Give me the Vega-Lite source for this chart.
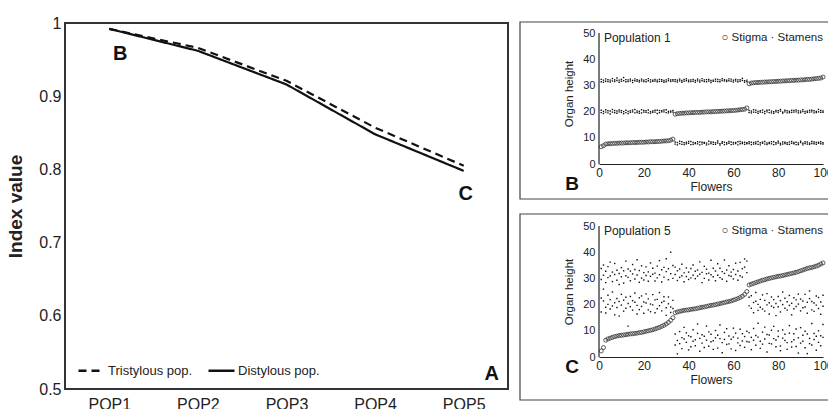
{
"$schema": "https://vega.github.io/schema/vega-lite/v6.json",
"padding": {"left": 5, "top": 14, "right": 0, "bottom": 0},
"background": "white",
"config": {"font": "Liberation Sans", "view": {"stroke": null}, "axis": {"grid": false, "ticks": false, "tickSize": 0, "labelColor": "#222", "titleColor": "#222", "labelFont": "Liberation Sans", "titleFont": "Liberation Sans"}},
"datasets": {
"idx": [{"pop":"POP1","v":0.992,"s":"Tristylous pop."},{"pop":"POP2","v":0.966,"s":"Tristylous pop."},{"pop":"POP3","v":0.921,"s":"Tristylous pop."},{"pop":"POP4","v":0.857,"s":"Tristylous pop."},{"pop":"POP5","v":0.805,"s":"Tristylous pop."},{"pop":"POP1","v":0.992,"s":"Distylous pop."},{"pop":"POP2","v":0.962,"s":"Distylous pop."},{"pop":"POP3","v":0.916,"s":"Distylous pop."},{"pop":"POP4","v":0.848,"s":"Distylous pop."},{"pop":"POP5","v":0.798,"s":"Distylous pop."}],
"p1stig": [{"f":1,"h":6.6},{"f":2,"h":7.0},{"f":3,"h":7.6},{"f":4,"h":7.7},{"f":5,"h":7.8},{"f":6,"h":7.8},{"f":7,"h":7.9},{"f":8,"h":7.9},{"f":9,"h":8.0},{"f":10,"h":8.0},{"f":11,"h":8.0},{"f":12,"h":8.1},{"f":13,"h":8.1},{"f":14,"h":8.1},{"f":15,"h":8.2},{"f":16,"h":8.2},{"f":17,"h":8.2},{"f":18,"h":8.3},{"f":19,"h":8.3},{"f":20,"h":8.3},{"f":21,"h":8.4},{"f":22,"h":8.4},{"f":23,"h":8.5},{"f":24,"h":8.5},{"f":25,"h":8.5},{"f":26,"h":8.6},{"f":27,"h":8.6},{"f":28,"h":8.7},{"f":29,"h":8.8},{"f":30,"h":8.8},{"f":31,"h":8.9},{"f":32,"h":9.1},{"f":33,"h":9.5},
{"f":34,"h":19.0},{"f":35,"h":19.2},{"f":36,"h":19.3},{"f":37,"h":19.4},{"f":38,"h":19.4},{"f":39,"h":19.5},{"f":40,"h":19.5},{"f":41,"h":19.6},{"f":42,"h":19.6},{"f":43,"h":19.7},{"f":44,"h":19.7},{"f":45,"h":19.7},{"f":46,"h":19.8},{"f":47,"h":19.8},{"f":48,"h":19.9},{"f":49,"h":19.9},{"f":50,"h":19.9},{"f":51,"h":20.0},{"f":52,"h":20.0},{"f":53,"h":20.1},{"f":54,"h":20.1},{"f":55,"h":20.2},{"f":56,"h":20.2},{"f":57,"h":20.3},{"f":58,"h":20.3},{"f":59,"h":20.4},{"f":60,"h":20.4},{"f":61,"h":20.5},{"f":62,"h":20.6},{"f":63,"h":20.7},{"f":64,"h":20.8},{"f":65,"h":20.9},{"f":66,"h":21.4},
{"f":67,"h":30.6},{"f":68,"h":30.9},{"f":69,"h":31.0},{"f":70,"h":31.1},{"f":71,"h":31.1},{"f":72,"h":31.2},{"f":73,"h":31.2},{"f":74,"h":31.3},{"f":75,"h":31.3},{"f":76,"h":31.4},{"f":77,"h":31.4},{"f":78,"h":31.5},{"f":79,"h":31.5},{"f":80,"h":31.6},{"f":81,"h":31.6},{"f":82,"h":31.7},{"f":83,"h":31.7},{"f":84,"h":31.8},{"f":85,"h":31.8},{"f":86,"h":31.9},{"f":87,"h":31.9},{"f":88,"h":32.0},{"f":89,"h":32.0},{"f":90,"h":32.1},{"f":91,"h":32.1},{"f":92,"h":32.2},{"f":93,"h":32.3},{"f":94,"h":32.3},{"f":95,"h":32.4},{"f":96,"h":32.5},{"f":97,"h":32.6},{"f":98,"h":32.7},{"f":99,"h":32.8},{"f":100,"h":33.2}],
"p1stam": [
{"f":1,"h":19.6},{"f":1,"h":20.5},{"f":1,"h":31.4},{"f":1,"h":32.3},
{"f":2,"h":20.1},{"f":2,"h":19.3},{"f":2,"h":32.0},{"f":2,"h":31.2},
{"f":3,"h":20.7},{"f":3,"h":19.8},{"f":3,"h":31.6},{"f":3,"h":32.5},
{"f":4,"h":19.5},{"f":4,"h":20.3},{"f":4,"h":32.2},{"f":4,"h":31.5},
{"f":5,"h":20.2},{"f":5,"h":19.1},{"f":5,"h":31.3},{"f":5,"h":32.0},
{"f":6,"h":19.8},{"f":6,"h":20.8},{"f":6,"h":32.6},{"f":6,"h":31.7},
{"f":7,"h":20.4},{"f":7,"h":19.6},{"f":7,"h":31.5},{"f":7,"h":32.1},
{"f":8,"h":19.4},{"f":8,"h":20.2},{"f":8,"h":31.9},{"f":8,"h":32.8},
{"f":9,"h":20.6},{"f":9,"h":19.9},{"f":9,"h":31.2},{"f":9,"h":32.0},
{"f":10,"h":19.7},{"f":10,"h":20.4},{"f":10,"h":32.3},{"f":10,"h":31.6},
{"f":11,"h":20.0},{"f":11,"h":19.2},{"f":11,"h":31.8},{"f":11,"h":33.0},
{"f":12,"h":20.5},{"f":12,"h":19.6},{"f":12,"h":31.4},{"f":12,"h":32.2},
{"f":13,"h":19.3},{"f":13,"h":20.1},{"f":13,"h":32.1},{"f":13,"h":31.5},
{"f":14,"h":20.3},{"f":14,"h":19.7},{"f":14,"h":31.7},{"f":14,"h":32.4},
{"f":15,"h":19.9},{"f":15,"h":20.6},{"f":15,"h":31.1},{"f":15,"h":31.9},
{"f":16,"h":20.8},{"f":16,"h":19.5},{"f":16,"h":32.5},{"f":16,"h":31.8},
{"f":17,"h":19.6},{"f":17,"h":20.2},{"f":17,"h":31.6},{"f":17,"h":32.2},
{"f":18,"h":20.1},{"f":18,"h":19.4},{"f":18,"h":31.9},{"f":18,"h":31.3},
{"f":19,"h":19.5},{"f":19,"h":20.7},{"f":19,"h":32.4},{"f":19,"h":31.7},
{"f":20,"h":20.4},{"f":20,"h":19.8},{"f":20,"h":31.5},{"f":20,"h":32.0},
{"f":21,"h":19.7},{"f":21,"h":20.3},{"f":21,"h":32.2},{"f":21,"h":31.4},
{"f":22,"h":20.6},{"f":22,"h":19.5},{"f":22,"h":31.8},{"f":22,"h":32.6},
{"f":23,"h":19.4},{"f":23,"h":20.0},{"f":23,"h":31.3},{"f":23,"h":32.1},
{"f":24,"h":20.2},{"f":24,"h":19.7},{"f":24,"h":32.0},{"f":24,"h":31.6},
{"f":25,"h":19.8},{"f":25,"h":20.5},{"f":25,"h":31.7},{"f":25,"h":32.3},
{"f":26,"h":20.5},{"f":26,"h":19.3},{"f":26,"h":31.4},{"f":26,"h":32.0},
{"f":27,"h":19.6},{"f":27,"h":20.4},{"f":27,"h":32.3},{"f":27,"h":31.5},
{"f":28,"h":20.3},{"f":28,"h":19.9},{"f":28,"h":31.6},{"f":28,"h":32.2},
{"f":29,"h":19.9},{"f":29,"h":20.6},{"f":29,"h":31.2},{"f":29,"h":31.9},
{"f":30,"h":20.7},{"f":30,"h":19.6},{"f":30,"h":32.1},{"f":30,"h":31.4},
{"f":31,"h":19.5},{"f":31,"h":20.1},{"f":31,"h":31.8},{"f":31,"h":32.5},
{"f":32,"h":20.2},{"f":32,"h":19.8},{"f":32,"h":31.5},{"f":32,"h":32.1},
{"f":33,"h":19.8},{"f":33,"h":20.4},{"f":33,"h":32.2},{"f":33,"h":31.7},
{"f":34,"h":7.6},{"f":34,"h":8.4},{"f":34,"h":31.5},{"f":34,"h":32.2},
{"f":35,"h":8.2},{"f":35,"h":7.3},{"f":35,"h":32.0},{"f":35,"h":31.3},
{"f":36,"h":7.8},{"f":36,"h":8.7},{"f":36,"h":31.7},{"f":36,"h":32.4},
{"f":37,"h":8.5},{"f":37,"h":7.5},{"f":37,"h":31.2},{"f":37,"h":31.9},
{"f":38,"h":7.4},{"f":38,"h":8.1},{"f":38,"h":32.3},{"f":38,"h":31.6},
{"f":39,"h":8.3},{"f":39,"h":7.7},{"f":39,"h":31.8},{"f":39,"h":32.5},
{"f":40,"h":7.9},{"f":40,"h":8.6},{"f":40,"h":31.4},{"f":40,"h":32.0},
{"f":41,"h":8.6},{"f":41,"h":7.4},{"f":41,"h":32.1},{"f":41,"h":31.5},
{"f":42,"h":7.5},{"f":42,"h":8.2},{"f":42,"h":31.6},{"f":42,"h":32.3},
{"f":43,"h":8.1},{"f":43,"h":7.8},{"f":43,"h":31.9},{"f":43,"h":31.2},
{"f":44,"h":7.7},{"f":44,"h":8.5},{"f":44,"h":32.4},{"f":44,"h":31.7},
{"f":45,"h":8.4},{"f":45,"h":7.3},{"f":45,"h":31.3},{"f":45,"h":32.0},
{"f":46,"h":7.6},{"f":46,"h":8.3},{"f":46,"h":31.8},{"f":46,"h":32.6},
{"f":47,"h":8.2},{"f":47,"h":7.9},{"f":47,"h":31.5},{"f":47,"h":32.1},
{"f":48,"h":7.3},{"f":48,"h":8.0},{"f":48,"h":32.2},{"f":48,"h":31.4},
{"f":49,"h":8.7},{"f":49,"h":7.6},{"f":49,"h":31.7},{"f":49,"h":32.3},
{"f":50,"h":7.8},{"f":50,"h":8.4},{"f":50,"h":31.1},{"f":50,"h":31.9},
{"f":51,"h":8.3},{"f":51,"h":7.5},{"f":51,"h":32.0},{"f":51,"h":31.6},
{"f":52,"h":7.5},{"f":52,"h":8.1},{"f":52,"h":31.6},{"f":52,"h":32.4},
{"f":53,"h":8.0},{"f":53,"h":8.8},{"f":53,"h":32.3},{"f":53,"h":31.5},
{"f":54,"h":7.7},{"f":54,"h":7.2},{"f":54,"h":31.4},{"f":54,"h":32.1},
{"f":55,"h":8.5},{"f":55,"h":7.9},{"f":55,"h":31.9},{"f":55,"h":32.6},
{"f":56,"h":7.4},{"f":56,"h":8.3},{"f":56,"h":32.2},{"f":56,"h":31.7},
{"f":57,"h":8.1},{"f":57,"h":7.6},{"f":57,"h":31.5},{"f":57,"h":32.0},
{"f":58,"h":7.9},{"f":58,"h":8.6},{"f":58,"h":31.8},{"f":58,"h":32.5},
{"f":59,"h":8.4},{"f":59,"h":7.4},{"f":59,"h":32.4},{"f":59,"h":31.6},
{"f":60,"h":7.6},{"f":60,"h":8.2},{"f":60,"h":31.3},{"f":60,"h":32.0},
{"f":61,"h":8.2},{"f":61,"h":7.8},{"f":61,"h":31.7},{"f":61,"h":32.3},
{"f":62,"h":7.3},{"f":62,"h":8.5},{"f":62,"h":32.1},{"f":62,"h":31.4},
{"f":63,"h":8.6},{"f":63,"h":7.7},{"f":63,"h":31.6},{"f":63,"h":32.2},
{"f":64,"h":7.8},{"f":64,"h":8.3},{"f":64,"h":31.9},{"f":64,"h":32.7},
{"f":65,"h":8.3},{"f":65,"h":7.5},{"f":65,"h":31.2},{"f":65,"h":31.8},
{"f":66,"h":7.7},{"f":66,"h":8.1},{"f":66,"h":32.0},{"f":66,"h":31.5},
{"f":67,"h":7.8},{"f":67,"h":8.5},{"f":67,"h":19.6},{"f":67,"h":20.4},
{"f":68,"h":8.3},{"f":68,"h":7.4},{"f":68,"h":20.2},{"f":68,"h":19.5},
{"f":69,"h":7.6},{"f":69,"h":8.2},{"f":69,"h":19.8},{"f":69,"h":20.7},
{"f":70,"h":8.4},{"f":70,"h":7.7},{"f":70,"h":20.5},{"f":70,"h":19.7},
{"f":71,"h":7.5},{"f":71,"h":8.6},{"f":71,"h":19.4},{"f":71,"h":20.1},
{"f":72,"h":8.1},{"f":72,"h":7.3},{"f":72,"h":20.3},{"f":72,"h":19.8},
{"f":73,"h":7.9},{"f":73,"h":8.4},{"f":73,"h":19.7},{"f":73,"h":20.6},
{"f":74,"h":8.6},{"f":74,"h":7.6},{"f":74,"h":20.1},{"f":74,"h":19.3},
{"f":75,"h":7.4},{"f":75,"h":8.0},{"f":75,"h":19.9},{"f":75,"h":20.5},
{"f":76,"h":8.2},{"f":76,"h":7.8},{"f":76,"h":20.6},{"f":76,"h":19.6},
{"f":77,"h":7.7},{"f":77,"h":8.5},{"f":77,"h":19.5},{"f":77,"h":20.2},
{"f":78,"h":8.5},{"f":78,"h":7.4},{"f":78,"h":20.0},{"f":78,"h":19.4},
{"f":79,"h":7.6},{"f":79,"h":8.1},{"f":79,"h":20.4},{"f":79,"h":19.9},
{"f":80,"h":8.0},{"f":80,"h":8.7},{"f":80,"h":19.6},{"f":80,"h":20.3},
{"f":81,"h":7.3},{"f":81,"h":7.9},{"f":81,"h":20.2},{"f":81,"h":20.8},
{"f":82,"h":8.4},{"f":82,"h":7.6},{"f":82,"h":19.8},{"f":82,"h":19.4},
{"f":83,"h":7.8},{"f":83,"h":8.3},{"f":83,"h":20.5},{"f":83,"h":19.9},
{"f":84,"h":8.1},{"f":84,"h":7.5},{"f":84,"h":19.5},{"f":84,"h":20.3},
{"f":85,"h":7.5},{"f":85,"h":8.4},{"f":85,"h":20.1},{"f":85,"h":19.6},
{"f":86,"h":8.6},{"f":86,"h":7.9},{"f":86,"h":19.7},{"f":86,"h":20.5},
{"f":87,"h":7.7},{"f":87,"h":8.2},{"f":87,"h":20.4},{"f":87,"h":19.8},
{"f":88,"h":8.3},{"f":88,"h":7.4},{"f":88,"h":19.9},{"f":88,"h":20.6},
{"f":89,"h":7.4},{"f":89,"h":8.0},{"f":89,"h":20.3},{"f":89,"h":19.5},
{"f":90,"h":8.2},{"f":90,"h":8.7},{"f":90,"h":19.6},{"f":90,"h":20.2},
{"f":91,"h":7.9},{"f":91,"h":7.3},{"f":91,"h":20.7},{"f":91,"h":20.0},
{"f":92,"h":8.5},{"f":92,"h":7.8},{"f":92,"h":19.4},{"f":92,"h":20.1},
{"f":93,"h":7.6},{"f":93,"h":8.4},{"f":93,"h":20.2},{"f":93,"h":19.7},
{"f":94,"h":8.0},{"f":94,"h":7.5},{"f":94,"h":19.8},{"f":94,"h":20.5},
{"f":95,"h":7.8},{"f":95,"h":8.6},{"f":95,"h":20.5},{"f":95,"h":19.9},
{"f":96,"h":8.4},{"f":96,"h":7.7},{"f":96,"h":19.5},{"f":96,"h":20.3},
{"f":97,"h":7.5},{"f":97,"h":8.2},{"f":97,"h":20.1},{"f":97,"h":19.6},
{"f":98,"h":8.3},{"f":98,"h":7.9},{"f":98,"h":19.9},{"f":98,"h":20.8},
{"f":99,"h":7.7},{"f":99,"h":8.5},{"f":99,"h":20.4},{"f":99,"h":19.7},
{"f":100,"h":8.1},{"f":100,"h":7.6},{"f":100,"h":19.7},{"f":100,"h":20.2}],
"p5stig": [{"f":1,"h":2.3},{"f":2,"h":3.6},{"f":3,"h":6.4},{"f":4,"h":6.9},{"f":5,"h":7.2},{"f":6,"h":7.5},{"f":7,"h":7.8},{"f":8,"h":8.0},{"f":9,"h":8.2},{"f":10,"h":8.3},{"f":11,"h":8.4},{"f":12,"h":8.5},{"f":13,"h":8.7},{"f":14,"h":8.8},{"f":15,"h":8.9},{"f":16,"h":9.0},{"f":17,"h":9.1},{"f":18,"h":9.3},{"f":19,"h":9.4},{"f":20,"h":9.6},{"f":21,"h":9.8},{"f":22,"h":10.0},{"f":23,"h":10.2},{"f":24,"h":10.4},{"f":25,"h":10.7},{"f":26,"h":11.0},{"f":27,"h":11.3},{"f":28,"h":11.7},{"f":29,"h":12.1},{"f":30,"h":12.6},{"f":31,"h":13.2},{"f":32,"h":14.0},{"f":33,"h":15.0},
{"f":34,"h":16.9},{"f":35,"h":17.2},{"f":36,"h":17.4},{"f":37,"h":17.6},{"f":38,"h":17.8},{"f":39,"h":17.9},{"f":40,"h":18.0},{"f":41,"h":18.2},{"f":42,"h":18.3},{"f":43,"h":18.4},{"f":44,"h":18.6},{"f":45,"h":18.8},{"f":46,"h":19.0},{"f":47,"h":19.1},{"f":48,"h":19.3},{"f":49,"h":19.5},{"f":50,"h":19.7},{"f":51,"h":19.8},{"f":52,"h":20.0},{"f":53,"h":20.2},{"f":54,"h":20.4},{"f":55,"h":20.6},{"f":56,"h":20.8},{"f":57,"h":21.0},{"f":58,"h":21.2},{"f":59,"h":21.4},{"f":60,"h":21.7},{"f":61,"h":22.0},{"f":62,"h":22.3},{"f":63,"h":22.7},{"f":64,"h":23.2},{"f":65,"h":23.9},{"f":66,"h":25.0},
{"f":67,"h":27.5},{"f":68,"h":27.8},{"f":69,"h":28.1},{"f":70,"h":28.4},{"f":71,"h":28.7},{"f":72,"h":29.0},{"f":73,"h":29.3},{"f":74,"h":29.5},{"f":75,"h":29.8},{"f":76,"h":30.0},{"f":77,"h":30.2},{"f":78,"h":30.4},{"f":79,"h":30.6},{"f":80,"h":30.8},{"f":81,"h":30.9},{"f":82,"h":31.1},{"f":83,"h":31.3},{"f":84,"h":31.5},{"f":85,"h":31.7},{"f":86,"h":31.9},{"f":87,"h":32.1},{"f":88,"h":32.3},{"f":89,"h":32.6},{"f":90,"h":32.9},{"f":91,"h":33.2},{"f":92,"h":33.5},{"f":93,"h":33.8},{"f":94,"h":34.0},{"f":95,"h":34.2},{"f":96,"h":34.4},{"f":97,"h":34.7},{"f":98,"h":35.0},{"f":99,"h":35.5},{"f":100,"h":35.9}],
"p5stam": [
{"f":1,"h":17.2},{"f":1,"h":22.5},{"f":1,"h":33.8},{"f":1,"h":29.6},
{"f":2,"h":21.4},{"f":2,"h":25.9},{"f":2,"h":31.2},{"f":2,"h":35.1},
{"f":3,"h":19.0},{"f":3,"h":16.8},{"f":3,"h":28.4},{"f":3,"h":32.7},
{"f":4,"h":23.6},{"f":4,"h":20.1},{"f":4,"h":34.5},{"f":4,"h":30.3},
{"f":5,"h":18.3},{"f":5,"h":21.9},{"f":5,"h":30.9},{"f":5,"h":36.2},
{"f":6,"h":24.8},{"f":6,"h":19.5},{"f":6,"h":32.4},{"f":6,"h":28.8},
{"f":7,"h":20.7},{"f":7,"h":16.1},{"f":7,"h":35.7},{"f":7,"h":31.5},
{"f":8,"h":22.3},{"f":8,"h":18.9},{"f":8,"h":29.3},{"f":8,"h":33.1},
{"f":9,"h":15.6},{"f":9,"h":21.2},{"f":9,"h":31.9},{"f":9,"h":27.7},
{"f":10,"h":19.8},{"f":10,"h":23.9},{"f":10,"h":34.1},{"f":10,"h":30.6},
{"f":11,"h":21.7},{"f":11,"h":17.5},{"f":11,"h":28.2},{"f":11,"h":32.9},
{"f":12,"h":18.6},{"f":12,"h":22.8},{"f":12,"h":36.6},{"f":12,"h":31.0},
{"f":13,"h":11.8},{"f":13,"h":20.4},{"f":13,"h":30.4},{"f":13,"h":33.6},
{"f":14,"h":23.1},{"f":14,"h":19.2},{"f":14,"h":32.8},{"f":14,"h":29.1},
{"f":15,"h":17.9},{"f":15,"h":21.5},{"f":15,"h":35.3},{"f":15,"h":31.7},
{"f":16,"h":20.9},{"f":16,"h":24.4},{"f":16,"h":29.8},{"f":16,"h":33.4},
{"f":17,"h":16.4},{"f":17,"h":19.7},{"f":17,"h":31.3},{"f":17,"h":37.1},
{"f":18,"h":22.6},{"f":18,"h":18.1},{"f":18,"h":33.0},{"f":18,"h":28.5},
{"f":19,"h":19.3},{"f":19,"h":23.3},{"f":19,"h":30.1},{"f":19,"h":34.8},
{"f":20,"h":21.0},{"f":20,"h":16.7},{"f":20,"h":32.2},{"f":20,"h":29.4},
{"f":21,"h":24.1},{"f":21,"h":20.6},{"f":21,"h":34.4},{"f":21,"h":31.1},
{"f":22,"h":18.0},{"f":22,"h":22.2},{"f":22,"h":28.9},{"f":22,"h":32.5},
{"f":23,"h":20.2},{"f":23,"h":17.3},{"f":23,"h":35.9},{"f":23,"h":30.8},
{"f":24,"h":23.8},{"f":24,"h":19.9},{"f":24,"h":31.6},{"f":24,"h":33.9},
{"f":25,"h":16.9},{"f":25,"h":21.8},{"f":25,"h":29.0},{"f":25,"h":32.0},
{"f":26,"h":22.0},{"f":26,"h":18.4},{"f":26,"h":34.7},{"f":26,"h":30.2},
{"f":27,"h":19.6},{"f":27,"h":24.6},{"f":27,"h":31.4},{"f":27,"h":36.8},
{"f":28,"h":17.6},{"f":28,"h":20.8},{"f":28,"h":33.3},{"f":28,"h":28.6},
{"f":29,"h":21.3},{"f":29,"h":23.0},{"f":29,"h":30.5},{"f":29,"h":34.2},
{"f":30,"h":18.8},{"f":30,"h":15.9},{"f":30,"h":32.6},{"f":30,"h":37.5},
{"f":31,"h":22.9},{"f":31,"h":20.3},{"f":31,"h":29.5},{"f":31,"h":33.7},
{"f":32,"h":19.1},{"f":32,"h":17.0},{"f":32,"h":40.0},{"f":32,"h":31.8},
{"f":33,"h":21.6},{"f":33,"h":18.5},{"f":33,"h":30.0},{"f":33,"h":34.9},
{"f":34,"h":4.6},{"f":34,"h":8.8},{"f":34,"h":31.5},{"f":34,"h":34.3},
{"f":35,"h":1.2},{"f":35,"h":6.3},{"f":35,"h":29.2},{"f":35,"h":32.9},
{"f":36,"h":9.7},{"f":36,"h":5.1},{"f":36,"h":33.6},{"f":36,"h":30.4},
{"f":37,"h":7.4},{"f":37,"h":3.2},{"f":37,"h":31.0},{"f":37,"h":35.4},
{"f":38,"h":11.3},{"f":38,"h":6.9},{"f":38,"h":28.7},{"f":38,"h":32.1},
{"f":39,"h":5.6},{"f":39,"h":9.2},{"f":39,"h":34.0},{"f":39,"h":30.7},
{"f":40,"h":8.1},{"f":40,"h":2.7},{"f":40,"h":32.4},{"f":40,"h":29.6},
{"f":41,"h":3.9},{"f":41,"h":7.7},{"f":41,"h":30.2},{"f":41,"h":33.8},
{"f":42,"h":10.4},{"f":42,"h":6.0},{"f":42,"h":35.1},{"f":42,"h":31.2},
{"f":43,"h":6.6},{"f":43,"h":4.3},{"f":43,"h":29.9},{"f":43,"h":32.7},
{"f":44,"h":9.0},{"f":44,"h":12.6},{"f":44,"h":33.2},{"f":44,"h":30.9},
{"f":45,"h":2.2},{"f":45,"h":7.1},{"f":45,"h":31.6},{"f":45,"h":36.3},
{"f":46,"h":5.3},{"f":46,"h":8.5},{"f":46,"h":28.4},{"f":46,"h":32.3},
{"f":47,"h":7.9},{"f":47,"h":3.6},{"f":47,"h":34.6},{"f":47,"h":30.0},
{"f":48,"h":11.8},{"f":48,"h":6.4},{"f":48,"h":31.8},{"f":48,"h":33.5},
{"f":49,"h":4.1},{"f":49,"h":9.6},{"f":49,"h":29.4},{"f":49,"h":32.0},
{"f":50,"h":8.7},{"f":50,"h":5.8},{"f":50,"h":36.9},{"f":50,"h":31.4},
{"f":51,"h":6.2},{"f":51,"h":2.9},{"f":51,"h":30.6},{"f":51,"h":33.9},
{"f":52,"h":10.1},{"f":52,"h":7.3},{"f":52,"h":32.8},{"f":52,"h":29.1},
{"f":53,"h":3.4},{"f":53,"h":8.3},{"f":53,"h":31.2},{"f":53,"h":35.6},
{"f":54,"h":7.0},{"f":54,"h":12.2},{"f":54,"h":33.9},{"f":54,"h":30.3},
{"f":55,"h":5.5},{"f":55,"h":1.6},{"f":55,"h":29.7},{"f":55,"h":32.6},
{"f":56,"h":9.4},{"f":56,"h":6.7},{"f":56,"h":31.9},{"f":56,"h":37.0},
{"f":57,"h":4.8},{"f":57,"h":10.8},{"f":57,"h":28.9},{"f":57,"h":33.2},
{"f":58,"h":8.0},{"f":58,"h":5.0},{"f":58,"h":34.8},{"f":58,"h":31.1},
{"f":59,"h":6.8},{"f":59,"h":3.1},{"f":59,"h":30.8},{"f":59,"h":32.4},
{"f":60,"h":11.0},{"f":60,"h":7.6},{"f":60,"h":33.4},{"f":60,"h":29.8},
{"f":61,"h":2.5},{"f":61,"h":9.1},{"f":61,"h":31.5},{"f":61,"h":35.8},
{"f":62,"h":7.2},{"f":62,"h":5.4},{"f":62,"h":29.3},{"f":62,"h":32.8},
{"f":63,"h":10.6},{"f":63,"h":4.4},{"f":63,"h":36.1},{"f":63,"h":31.0},
{"f":64,"h":6.1},{"f":64,"h":8.9},{"f":64,"h":30.5},{"f":64,"h":33.7},
{"f":65,"h":3.7},{"f":65,"h":7.8},{"f":65,"h":34.3},{"f":65,"h":37.4},
{"f":66,"h":9.8},{"f":66,"h":5.9},{"f":66,"h":32.2},{"f":66,"h":36.6},
{"f":67,"h":5.7},{"f":67,"h":9.3},{"f":67,"h":19.5},{"f":67,"h":22.8},
{"f":68,"h":2.8},{"f":68,"h":7.5},{"f":68,"h":23.4},{"f":68,"h":18.6},
{"f":69,"h":10.9},{"f":69,"h":6.4},{"f":69,"h":20.8},{"f":69,"h":16.9},
{"f":70,"h":4.5},{"f":70,"h":8.2},{"f":70,"h":24.6},{"f":70,"h":21.3},
{"f":71,"h":7.6},{"f":71,"h":12.9},{"f":71,"h":17.8},{"f":71,"h":20.1},
{"f":72,"h":3.3},{"f":72,"h":6.0},{"f":72,"h":22.0},{"f":72,"h":19.0},
{"f":73,"h":9.5},{"f":73,"h":4.9},{"f":73,"h":18.3},{"f":73,"h":23.7},
{"f":74,"h":6.9},{"f":74,"h":11.4},{"f":74,"h":21.6},{"f":74,"h":17.5},
{"f":75,"h":1.9},{"f":75,"h":8.6},{"f":75,"h":19.9},{"f":75,"h":24.2},
{"f":76,"h":8.4},{"f":76,"h":5.2},{"f":76,"h":16.4},{"f":76,"h":20.7},
{"f":77,"h":5.0},{"f":77,"h":10.2},{"f":77,"h":22.9},{"f":77,"h":19.4},
{"f":78,"h":11.7},{"f":78,"h":7.0},{"f":78,"h":18.9},{"f":78,"h":21.9},
{"f":79,"h":3.9},{"f":79,"h":6.5},{"f":79,"h":20.4},{"f":79,"h":15.8},
{"f":80,"h":7.8},{"f":80,"h":9.9},{"f":80,"h":23.1},{"f":80,"h":19.2},
{"f":81,"h":4.2},{"f":81,"h":2.4},{"f":81,"h":17.2},{"f":81,"h":21.5},
{"f":82,"h":10.3},{"f":82,"h":7.2},{"f":82,"h":20.0},{"f":82,"h":24.8},
{"f":83,"h":6.3},{"f":83,"h":8.7},{"f":83,"h":18.6},{"f":83,"h":22.4},
{"f":84,"h":2.9},{"f":84,"h":5.5},{"f":84,"h":21.1},{"f":84,"h":17.9},
{"f":85,"h":9.1},{"f":85,"h":12.0},{"f":85,"h":19.7},{"f":85,"h":23.5},
{"f":86,"h":5.8},{"f":86,"h":3.8},{"f":86,"h":16.1},{"f":86,"h":20.5},
{"f":87,"h":8.9},{"f":87,"h":6.6},{"f":87,"h":22.6},{"f":87,"h":18.4},
{"f":88,"h":4.0},{"f":88,"h":10.7},{"f":88,"h":19.3},{"f":88,"h":21.8},
{"f":89,"h":7.3},{"f":89,"h":1.5},{"f":89,"h":24.0},{"f":89,"h":20.2},
{"f":90,"h":11.2},{"f":90,"h":5.3},{"f":90,"h":17.6},{"f":90,"h":22.1},
{"f":91,"h":6.0},{"f":91,"h":8.3},{"f":91,"h":21.4},{"f":91,"h":18.8},
{"f":92,"h":3.5},{"f":92,"h":9.8},{"f":92,"h":19.1},{"f":92,"h":23.9},
{"f":93,"h":8.8},{"f":93,"h":1.3},{"f":93,"h":16.7},{"f":93,"h":20.9},
{"f":94,"h":5.1},{"f":94,"h":7.1},{"f":94,"h":22.3},{"f":94,"h":25.2},
{"f":95,"h":12.8},{"f":95,"h":4.6},{"f":95,"h":18.0},{"f":95,"h":21.2},
{"f":96,"h":6.7},{"f":96,"h":9.0},{"f":96,"h":20.6},{"f":96,"h":17.4},
{"f":97,"h":2.6},{"f":97,"h":7.9},{"f":97,"h":23.3},{"f":97,"h":19.8},
{"f":98,"h":10.0},{"f":98,"h":5.6},{"f":98,"h":18.5},{"f":98,"h":22.7},
{"f":99,"h":4.3},{"f":99,"h":8.1},{"f":99,"h":21.0},{"f":99,"h":16.3},
{"f":100,"h":7.5},{"f":100,"h":12.4},{"f":100,"h":19.4},{"f":100,"h":23.6}]
},
"hconcat": [
{
"width": 443, "height": 366,
"view": {"stroke": "#333", "strokeWidth": 2},
"encoding": {
"x": {"field": "pop", "type": "ordinal", "scale": {"type": "point", "padding": 0.5}, "axis": {"title": null, "domain": false, "labelFontSize": 16, "labelPadding": 7, "labelAngle": 0}},
"y": {"field": "v", "type": "quantitative", "scale": {"domain": [0.5, 1], "nice": false, "zero": false}, "axis": {"title": "Index value", "titleFontSize": 19, "titleFontWeight": "bold", "titlePadding": 13, "values": [0.5, 0.6, 0.7, 0.8, 0.9, 1], "format": ".1~f", "domain": false, "labelFontSize": 16, "labelPadding": 4}}
},
"layer": [
{"data": {"name": "idx"}, "mark": {"type": "line", "strokeWidth": 2.2, "color": "#111"},
 "encoding": {"strokeDash": {"field": "s", "type": "nominal", "scale": {"domain": ["Tristylous pop.", "Distylous pop."], "range": [[8, 5], [1, 0]]},
  "legend": {"title": null, "orient": "none", "legendX": 12, "legendY": 333, "direction": "horizontal", "symbolType": "stroke", "symbolSize": 676, "symbolStrokeWidth": 2.5, "symbolStrokeColor": "#111", "labelFontSize": 13, "labelColor": "#222", "labelOffset": 2, "columnPadding": 10}}}},
{"data": {"values": [{"pop": "POP1", "v": 0.957, "t": "B"}]}, "mark": {"type": "text", "fontSize": 20, "fontWeight": "bold", "dx": 11, "color": "#111"}, "encoding": {"text": {"field": "t"}}},
{"data": {"values": [{"pop": "POP5", "v": 0.766, "t": "C"}]}, "mark": {"type": "text", "fontSize": 20, "fontWeight": "bold", "dx": 2, "color": "#111"}, "encoding": {"text": {"field": "t"}}},
{"data": {"values": [{"pop": "POP5", "v": 0.52, "t": "A"}]}, "mark": {"type": "text", "fontSize": 20, "fontWeight": "bold", "dx": 28, "color": "#111"}, "encoding": {"text": {"field": "t"}}}
]
},
{
"spacing": 13,
"vconcat": [
{
"width": 224, "height": 141,
"encoding": {
"x": {"field": "f", "type": "quantitative", "scale": {"domain": [0, 100], "nice": false, "zero": false}, "axis": {"title": "Flowers", "titleFontSize": 12, "titleFontWeight": "normal", "titlePadding": 3, "values": [0, 20, 40, 60, 80, 100], "labelFontSize": 12, "labelPadding": 3, "labelFlush": false, "domainColor": "#222", "domainWidth": 1.2}},
"y": {"field": "h", "type": "quantitative", "scale": {"domain": [0, 53.82], "nice": false, "zero": false}, "axis": {"title": "Organ height", "titleFontSize": 11.5, "titleFontWeight": "normal", "titlePadding": 8, "values": [0, 10, 20, 30, 40, 50], "labelFontSize": 11, "labelPadding": 4, "domain": false}}
},
"layer": [
{"data": {"values": [{"f": -35.27, "f2": 106, "h": -13.36, "h2": 54.2}]}, "mark": {"type": "rect", "filled": false, "color": "#444", "strokeWidth": 1.2}, "encoding": {"x2": {"field": "f2"}, "y2": {"field": "h2"}}},
{"data": {"values": [{"f": 0, "h": 0, "h2": 50}]}, "mark": {"type": "rule", "color": "#222", "strokeWidth": 1.2}, "encoding": {"y2": {"field": "h2"}}},
{"data": {"name": "p1stam"}, "mark": {"type": "square", "size": 2, "color": "#111", "opacity": 1}, "encoding": {}},
{"data": {"name": "p1stig"}, "mark": {"type": "point", "shape": "circle", "filled": false, "size": 16, "strokeWidth": 0.8, "color": "#333", "opacity": 1}, "encoding": {}},
{"data": {"values": [{"f": 2.2, "h": 48.1, "t": "Population 1"}]}, "mark": {"type": "text", "align": "left", "baseline": "middle", "fontSize": 12, "color": "#222"}, "encoding": {"text": {"field": "t"}}},
{"data": {"values": [{"f": 100, "h": 48.1, "t": "○ Stigma  · Stamens"}]}, "mark": {"type": "text", "align": "right", "baseline": "middle", "fontSize": 11.5, "color": "#222"}, "encoding": {"text": {"field": "t"}}},
{"data": {"values": [{"f": -12, "h": -7.8, "t": "B"}]}, "mark": {"type": "text", "align": "center", "baseline": "middle", "fontSize": 19, "fontWeight": "bold", "color": "#111"}, "encoding": {"text": {"field": "t"}}}
]
},
{
"width": 224, "height": 131,
"encoding": {
"x": {"field": "f", "type": "quantitative", "scale": {"domain": [0, 100], "nice": false, "zero": false}, "axis": {"title": "Flowers", "titleFontSize": 12, "titleFontWeight": "normal", "titlePadding": 3, "values": [0, 20, 40, 60, 80, 100], "labelFontSize": 12, "labelPadding": 3, "labelFlush": false, "domainColor": "#222", "domainWidth": 1.2}},
"y": {"field": "h", "type": "quantitative", "scale": {"domain": [0, 50], "nice": false, "zero": false}, "axis": {"title": "Organ height", "titleFontSize": 11.5, "titleFontWeight": "normal", "titlePadding": 8, "values": [0, 10, 20, 30, 40, 50], "labelFontSize": 11, "labelPadding": 4, "domain": false}}
},
"layer": [
{"data": {"values": [{"f": -35.27, "f2": 106, "h": -16.41, "h2": 54.58}]}, "mark": {"type": "rect", "filled": false, "color": "#444", "strokeWidth": 1.2}, "encoding": {"x2": {"field": "f2"}, "y2": {"field": "h2"}}},
{"data": {"values": [{"f": 0, "h": 0, "h2": 50}]}, "mark": {"type": "rule", "color": "#222", "strokeWidth": 1.2}, "encoding": {"y2": {"field": "h2"}}},
{"data": {"name": "p5stam"}, "mark": {"type": "square", "size": 2, "color": "#111", "opacity": 1}, "encoding": {}},
{"data": {"name": "p5stig"}, "mark": {"type": "point", "shape": "circle", "filled": false, "size": 16, "strokeWidth": 0.8, "color": "#333", "opacity": 1}, "encoding": {}},
{"data": {"values": [{"f": 2.2, "h": 48.1, "t": "Population 5"}]}, "mark": {"type": "text", "align": "left", "baseline": "middle", "fontSize": 12, "color": "#222"}, "encoding": {"text": {"field": "t"}}},
{"data": {"values": [{"f": 100, "h": 48.1, "t": "○ Stigma  · Stamens"}]}, "mark": {"type": "text", "align": "right", "baseline": "middle", "fontSize": 11.5, "color": "#222"}, "encoding": {"text": {"field": "t"}}},
{"data": {"values": [{"f": -12, "h": -3.7, "t": "C"}]}, "mark": {"type": "text", "align": "center", "baseline": "middle", "fontSize": 19, "fontWeight": "bold", "color": "#111"}, "encoding": {"text": {"field": "t"}}}
]
}
]
}
],
"spacing": 10
}
